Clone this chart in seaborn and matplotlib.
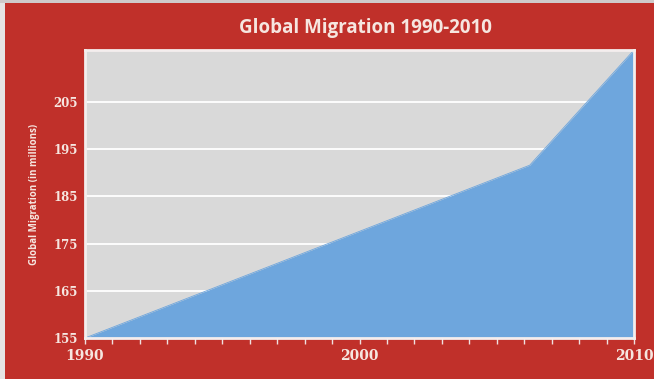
import matplotlib
matplotlib.use("Agg")
import matplotlib.pyplot as plt
import matplotlib.patches as mpatches
from matplotlib.ticker import MultipleLocator
import seaborn as sns
import pandas as pd

# Data
years = [1990, 2006.2, 2010]
migrants = [155, 191.6, 216]
y_ticks = [155, 165, 175, 185, 195, 205]
x_ticks = [1990, 2000, 2010]
title = "Global Migration 1990-2010"
y_label = "Global Migration (in millions)"

RED = "#c0302a"
PLOT_BG = "#d9d9d9"
BLUE = "#6ea6dd"
TEXT = "#f6e6e0"

sns.set_theme(style="white")
plt.rcParams['font.family'] = ['DejaVu Sans']

df = pd.DataFrame({"year": years, "migrants": migrants})

fig = plt.figure(figsize=(6.54, 3.79), dpi=100)
fig.patch.set_facecolor(RED)
# scanned edge strips
fig.add_artist(mpatches.Rectangle((0, 0), 5 / 654, 1, transform=fig.transFigure,
                                  facecolor="#e6e4e4", edgecolor="none"))
fig.add_artist(mpatches.Rectangle((0, 1 - 3 / 379), 1, 3 / 379, transform=fig.transFigure,
                                  facecolor="#cfcaca", edgecolor="none"))

ax = fig.add_axes([85 / 654, 41 / 379, 549 / 654, 288 / 379])
ax.set_facecolor(PLOT_BG)

sns.lineplot(data=df, x="year", y="migrants", ax=ax, color=BLUE, linewidth=0.6)
ax.fill_between(df["year"], df["migrants"], 155, color=BLUE, linewidth=0, zorder=2)

ax.set_xlim(1990, 2010)
ax.set_ylim(155, 216)
ax.set_yticks(y_ticks)
ax.set_xticks(x_ticks)
ax.xaxis.set_minor_locator(MultipleLocator(1))

for y in y_ticks[1:]:
    ax.axhline(y, color="white", linewidth=1.3, zorder=1)

for s in ax.spines.values():
    s.set_color("#f4eeee")
    s.set_linewidth(2)
    s.set_zorder(5)

ax.tick_params(axis="x", which="both", direction="out", length=4, width=1,
               color="#f0e0e0", bottom=True, labelcolor=TEXT, pad=4)
ax.tick_params(axis="y", which="both", length=0, labelcolor=TEXT, pad=5)
for lab in ax.get_xticklabels():
    lab.set_fontfamily("DejaVu Serif")
    lab.set_fontweight("bold")
    lab.set_fontsize(10)
for lab in ax.get_yticklabels():
    lab.set_fontfamily("DejaVu Serif")
    lab.set_fontweight("bold")
    lab.set_fontsize(8.5)

ax.set_xlabel("")
ax.set_ylabel(y_label, color=TEXT, fontsize=7, fontweight="bold", labelpad=10,
              family="Open Sans")

fig.text(365 / 654, 1 - 28 / 379, title, color=TEXT, fontsize=13.5, fontweight="bold",
         ha="center", va="center", family="Open Sans")

fig.savefig("out.png", dpi=100, facecolor=fig.get_facecolor())
